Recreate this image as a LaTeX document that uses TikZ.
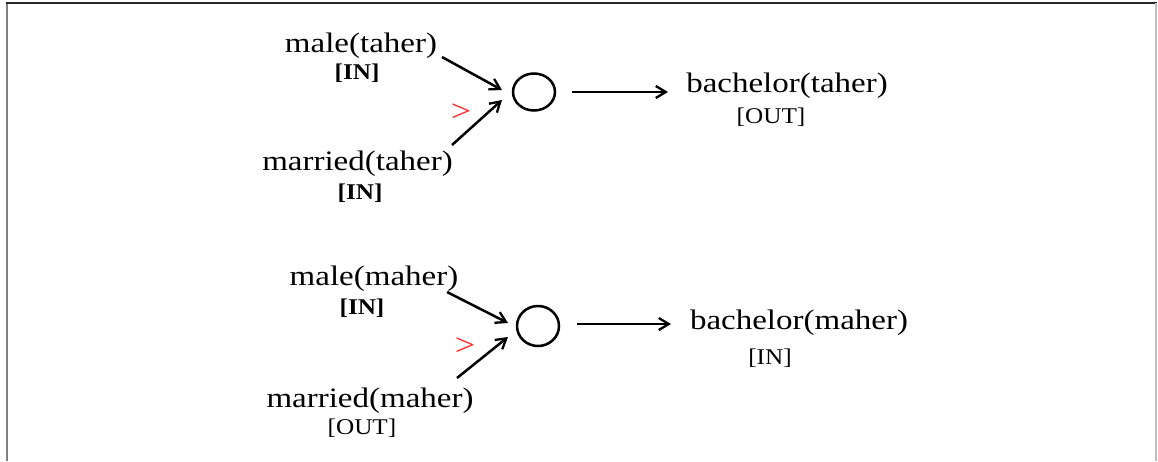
\documentclass[tikz,border=0pt]{standalone}
\usepackage{graphicx}
\usepackage{fontspec}
\setmainfont{Liberation Serif}
\usetikzlibrary{arrows.meta,shapes.geometric}
\newcommand\wtxt[1]{\scalebox{1.17}[1]{#1}}
\newcommand\wtag[1]{\scalebox{1.12}[1]{#1}}
\begin{document}
\begin{tikzpicture}[x=1pt,y=-1pt,
  lit/.style={inner sep=0pt,anchor=base,font=\fontsize{28.2}{30}\selectfont},
  tag/.style={inner sep=0pt,anchor=base,font=\fontsize{22.5}{24}\selectfont},
  pref/.style={inner sep=0pt,text=red!85!white,font=\fontsize{31}{32}\selectfont},
  junct/.style={draw,line width=2.5pt,ellipse,inner sep=0pt,minimum width=42pt,minimum height=37pt},
  arr/.style={line width=2.5pt,-{Straight Barb[length=10pt,width=12pt,line width=2.3pt]}}]
\useasboundingbox (0,0) rectangle (1158,461);
% page frame
\draw[line width=2pt,black!50] (7,461) -- (7,3);
\draw[line width=1.6pt,black!85] (6,3) -- (1157,3);
\draw[line width=1.6pt,black!25] (1156,3) -- (1156,461);

% first justification: bachelor(taher)
\node[lit] (mt) at (361,52) {\wtxt{male(taher)}};
\node[tag] (mti) at (357,79) {\wtag{\textbf{[IN]}}};
\node[lit] (rt) at (357.5,170) {\wtxt{married(taher)}};
\node[tag] (rti) at (360,199) {\wtag{\textbf{[IN]}}};
\node[pref] (gt) at (461,113) {\wtxt{>}};
\node[junct] (jt) at (534,92) {};
\node[lit] (bt) at (787,92) {\wtxt{bachelor(taher)}};
\node[tag] (bto) at (771,123) {\wtag{[OUT]}};
\coordinate (mtS) at (442,57);  \coordinate (mtE) at (502,90);
\coordinate (rtS) at (452,145); \coordinate (rtE) at (502,100);
\coordinate (jtS) at (572,92);  \coordinate (jtE) at (668,92);
\draw[arr] (mtS) -- (mtE);
\draw[arr] (rtS) -- (rtE);
\draw[arr] (jtS) -- (jtE);

% second justification: bachelor(maher)
\node[lit] (mm) at (374,285) {\wtxt{male(maher)}};
\node[tag] (mmi) at (362,314) {\wtag{\textbf{[IN]}}};
\node[lit] (rm) at (370,407) {\wtxt{married(maher)}};
\node[tag] (rmo) at (362,434) {\wtag{[OUT]}};
\node[pref] (gm) at (465,347) {\wtxt{>}};
\node[junct,minimum height=40pt] (jm) at (538,326) {};
\node[lit] (bm) at (799,329) {\wtxt{bachelor(maher)}};
\node[tag] (bmi) at (770,364) {\wtag{[IN]}};
\coordinate (mmS) at (447,292); \coordinate (mmE) at (508,323);
\coordinate (rmS) at (457,378); \coordinate (rmE) at (508,337);
\coordinate (jmS) at (577,324); \coordinate (jmE) at (671,324);
\draw[arr] (mmS) -- (mmE);
\draw[arr] (rmS) -- (rmE);
\draw[arr] (jmS) -- (jmE);
\end{tikzpicture}
\end{document}
